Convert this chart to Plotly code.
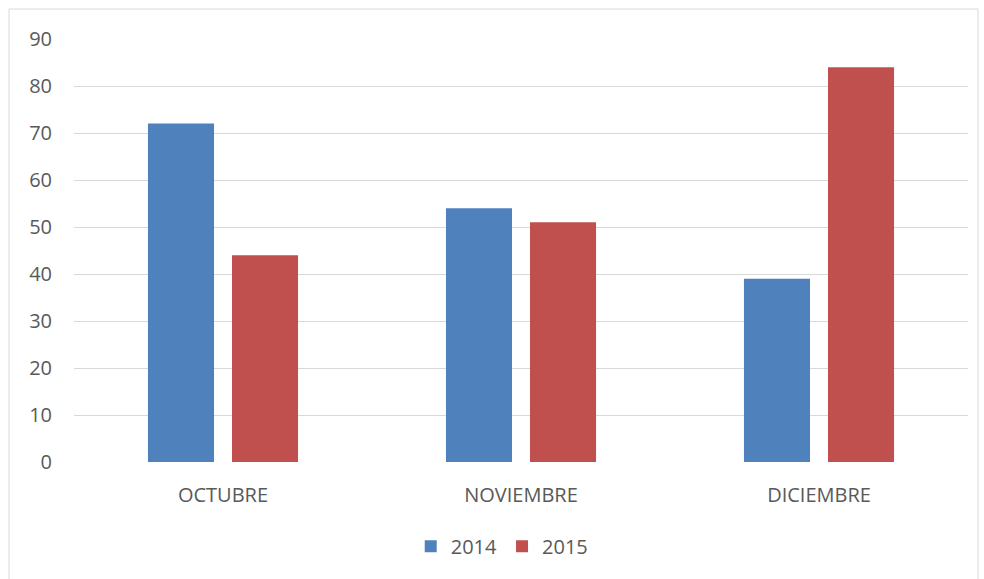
import plotly.graph_objects as go

categories = ["OCTUBRE", "NOVIEMBRE", "DICIEMBRE"]
series_names = ["2014", "2015"]
values_2014 = [72, 54, 39]
values_2015 = [44, 51, 84]
colors = ["#4F81BD", "#C0504D"]
y_ticks = [0, 10, 20, 30, 40, 50, 60, 70, 80, 90]

fig = go.Figure()
for name, vals, col in zip(series_names, [values_2014, values_2015], colors):
    fig.add_trace(go.Bar(x=categories, y=vals, name=name, marker=dict(color=col, line=dict(width=0))))

font_fam = "Open Sans, Liberation Sans, sans-serif"
fig.update_layout(
    width=984, height=579,
    margin=dict(l=74, r=16, t=39, b=117),
    paper_bgcolor="white", plot_bgcolor="white",
    barmode="group", bargap=0.436, bargroupgap=0.214,
    font=dict(family=font_fam, size=20, color="#595959"),
    showlegend=True,
    legend=dict(orientation="h", x=0.479, xanchor="center", y=-0.199, yanchor="middle",
                font=dict(size=20, color="#595959"), itemwidth=30, traceorder="normal"),
    xaxis=dict(showgrid=False, showline=False, zeroline=False, ticks="",
               tickfont=dict(size=20), ticklabelstandoff=19),
    yaxis=dict(range=[0, 90], tickvals=y_ticks, showgrid=True, gridcolor="#D9D9D9", gridwidth=1.3,
               zeroline=False, showline=False, ticks="", tickfont=dict(size=20),
               ticklabelstandoff=21),
    shapes=[dict(type="rect", xref="paper", yref="paper",
                 x0=(9-74)/894, x1=(978-74)/894, y0=-0.35, y1=1+(39-9)/423,
                 line=dict(color="#D9D9D9", width=1), fillcolor="rgba(0,0,0,0)", layer="below")],
)

fig.write_html("out.html", config={"displayModeBar": False},
               post_script="document.body.style.margin='0';")
